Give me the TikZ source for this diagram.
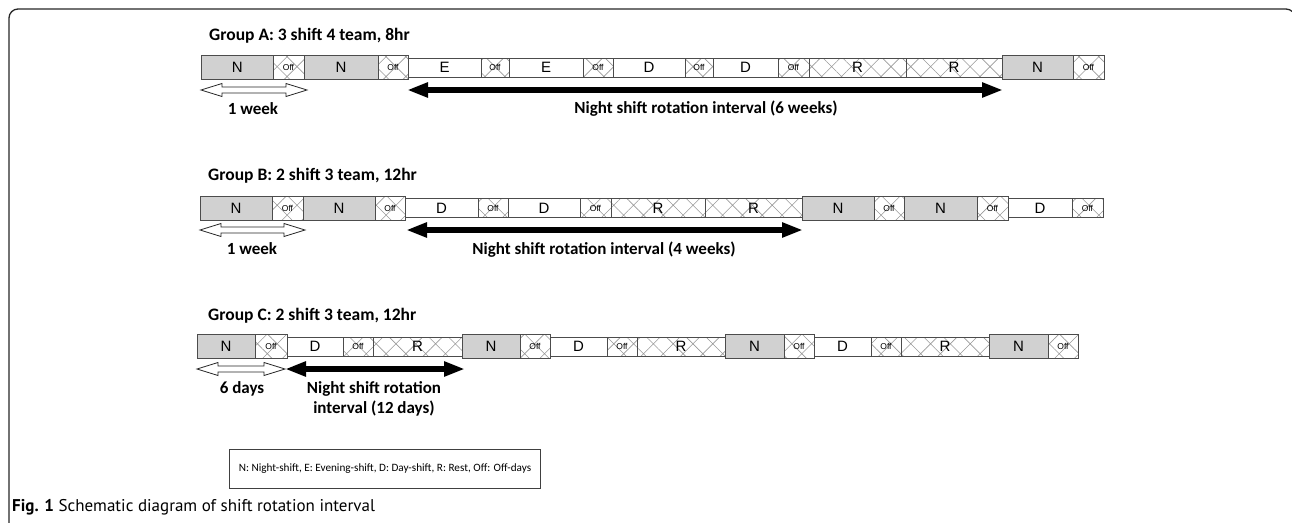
\documentclass[tikz,border=0pt]{standalone}
\usepackage{fontspec}
\setmainfont{Carlito}
\newfontfamily\arialf{Liberation Sans}
\newfontfamily\capf{PT Sans}
\usetikzlibrary{patterns.meta,arrows.meta,calc}
\newcommand\slot[6]{\node[#5, minimum width={#3-#2}] (#1) at ({(#2+#3)/2},#4) {#6};}
\newcommand\warrow[2]{\draw[fill=white, draw=black!85, line width=0.8pt]
  (#1) -- ($(#1)+(21,-6.5)$) -- ($(#1)+(21,-3)$) -- ($(#2)+(-21,-3)$) -- ($(#2)+(-21,-6.5)$) -- (#2)
  -- ($(#2)+(-21,6.5)$) -- ($(#2)+(-21,3)$) -- ($(#1)+(21,3)$) -- ($(#1)+(21,6.5)$) -- cycle;}
\tikzset{
  cell/.style={draw=black!70, line width=0.8pt, inner sep=0pt, outer sep=0pt,
    font=\arialf\fontsize{15}{15}\selectfont},
  ncell/.style={cell, fill=black!18, minimum height=24},
  wcell/.style={cell, fill=white, minimum height=19},
  hatch/.style={pattern={Hatch[angle=45,distance=14pt,line width=0.6pt]}, pattern color=black!40},
  offt/.style={cell, hatch, minimum height=24, font=\arialf\fontsize{8.5}{9}\selectfont},
  offs/.style={cell, hatch, minimum height=19, font=\arialf\fontsize{8.5}{9}\selectfont},
  rcell/.style={cell, hatch, minimum height=19},
  lbl/.style={font=\bfseries\fontsize{17}{19}\selectfont, anchor=base, inner sep=0pt},
  grp/.style={font=\bfseries\fontsize{17.5}{19}\selectfont, anchor=base west, inner sep=0pt},
  barrow/.style={line width=6pt, black, {Triangle[length=21pt,width=14pt]}-{Triangle[length=21pt,width=14pt]}},
}
\begin{document}
\begin{tikzpicture}[x=1pt,y=-1pt]
\useasboundingbox (0,0) rectangle (1292,522);
% frame
\draw[line width=1.3pt, black!85, rounded corners=9pt] (9,540) -- (9,9) -- (1295,9) -- (1295,40);

% ---------- Group A ----------
\node[grp] (ga) at (209,40) {Group A: 3 shift 4 team, 8hr};
\slot{a1}{201.5}{273}{67.5}{ncell}{N}
\slot{a2}{273}{304}{67.5}{offt}{Off}
\slot{a3}{304}{378}{67.5}{ncell}{N}
\slot{a4}{378}{408}{67.5}{offt}{Off}
\slot{a5}{408}{481}{67.5}{wcell}{E}
\slot{a6}{481}{509}{67.5}{offs}{Off}
\slot{a7}{509}{583}{67.5}{wcell}{E}
\slot{a8}{583}{613}{67.5}{offs}{Off}
\slot{a9}{613}{685}{67.5}{wcell}{D}
\slot{a10}{685}{713}{67.5}{offs}{Off}
\slot{a11}{713}{778}{67.5}{wcell}{D}
\slot{a12}{778}{809}{67.5}{offs}{Off}
\slot{a13}{809}{906}{67.5}{rcell}{R}
\slot{a14}{906}{1002}{67.5}{rcell}{R}
\slot{a15}{1002}{1073}{67.5}{ncell}{N}
\slot{a16}{1073}{1104}{67.5}{offt}{Off}
\coordinate (aw1) at (201,90);
\coordinate (aw2) at (307,90);
\coordinate (ab1) at (407,90);
\coordinate (ab2) at (1003,90);
\warrow{aw1}{aw2}
\draw[barrow] (ab1) -- (ab2);
\node[lbl] (aweek) at (253,114) {1 week};
\node[lbl] (anight) at (706,113) {Night shift rotation interval (6 weeks)};

% ---------- Group B ----------
\node[grp] (gb) at (208,180) {Group B: 2 shift 3 team, 12hr};
\slot{b1}{200}{272}{208}{ncell}{N}
\slot{b2}{272}{303}{208}{offt}{Off}
\slot{b3}{303}{375}{208}{ncell}{N}
\slot{b4}{375}{405}{208}{offt}{Off}
\slot{b5}{405}{478}{208}{wcell}{D}
\slot{b6}{478}{508}{208}{offs}{Off}
\slot{b7}{508}{580}{208}{wcell}{D}
\slot{b8}{580}{611}{208}{offs}{Off}
\slot{b9}{611}{705}{208}{rcell}{R}
\slot{b10}{705}{802}{208}{rcell}{R}
\slot{b11}{802}{874}{208}{ncell}{N}
\slot{b12}{874}{904}{208}{offt}{Off}
\slot{b13}{904}{977}{208}{ncell}{N}
\slot{b14}{977}{1008}{208}{offt}{Off}
\slot{b15}{1008}{1072}{208}{wcell}{D}
\slot{b16}{1072}{1103}{208}{offs}{Off}
\coordinate (bw1) at (200,230);
\coordinate (bw2) at (305,230);
\coordinate (bb1) at (406,230);
\coordinate (bb2) at (803,230);
\warrow{bw1}{bw2}
\draw[barrow] (bb1) -- (bb2);
\node[lbl] (bweek) at (252,254) {1 week};
\node[lbl] (bnight) at (604,254) {Night shift rotation interval (4 weeks)};

% ---------- Group C ----------
\node[grp] (gc) at (208,320) {Group C: 2 shift 3 team, 12hr};
\slot{c1}{197}{255}{346.5}{ncell}{N}
\slot{c2}{255}{287}{346.5}{offt}{Off}
\slot{c3}{287}{343}{346.5}{wcell}{D}
\slot{c4}{343}{373}{346.5}{offs}{Off}
\slot{c5}{373}{462}{346.5}{rcell}{R}
\slot{c6}{462}{520}{346.5}{ncell}{N}
\slot{c7}{520}{550}{346.5}{offt}{Off}
\slot{c8}{550}{607}{346.5}{wcell}{D}
\slot{c9}{607}{637}{346.5}{offs}{Off}
\slot{c10}{637}{725}{346.5}{rcell}{R}
\slot{c11}{725}{784}{346.5}{ncell}{N}
\slot{c12}{784}{814}{346.5}{offt}{Off}
\slot{c13}{814}{871}{346.5}{wcell}{D}
\slot{c14}{871}{901}{346.5}{offs}{Off}
\slot{c15}{901}{989}{346.5}{rcell}{R}
\slot{c16}{989}{1048}{346.5}{ncell}{N}
\slot{c17}{1048}{1078}{346.5}{offt}{Off}
\coordinate (cw1) at (197,369);
\coordinate (cw2) at (285,369);
\coordinate (cb1) at (285,369);
\coordinate (cb2) at (465,369);
\warrow{cw1}{cw2}
\draw[barrow] (cb1) -- (cb2);
\node[lbl] (cdays) at (242,393) {6 days};
\node[lbl] (cnight1) at (374,393) {Night shift rotation};
\node[lbl] (cnight2) at (374,413) {interval (12 days)};

% ---------- legend and caption ----------
\node[draw=black!75, line width=0.8pt, minimum width=311, minimum height=39, inner sep=0pt,
  font=\fontsize{11.2}{13}\selectfont] (legend) at (385,468.5)
  {N: Night-shift, E: Evening-shift, D: Day-shift, R: Rest, Off: Off-days};
\node[anchor=west, inner sep=0pt, font=\capf\fontsize{17}{19}\selectfont] (caption) at (12,507)
  {\textbf{Fig. 1} Schematic diagram of shift rotation interval};
\end{tikzpicture}
\end{document}
